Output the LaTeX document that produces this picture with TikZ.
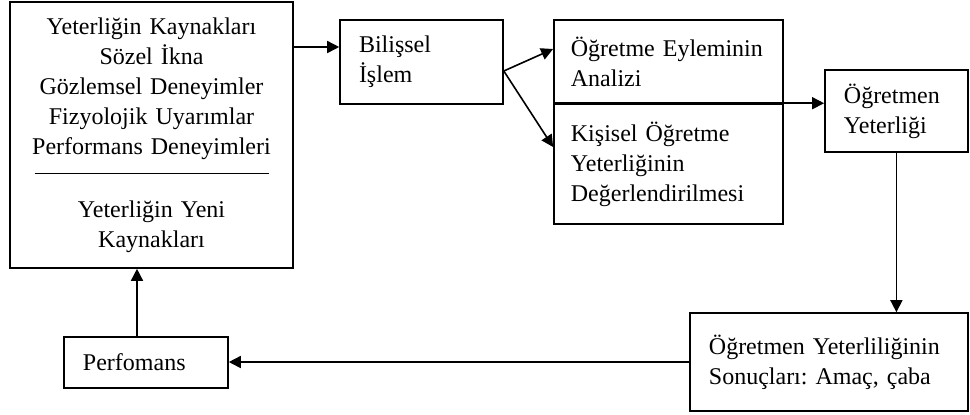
\documentclass[tikz,border=0pt]{standalone}
\usepackage{fontspec}
\setmainfont{Liberation Serif}
\usetikzlibrary{arrows.meta}

\begin{document}
\begin{tikzpicture}[->,>={Triangle[length=6pt,width=6pt]},line width=0.8pt,
	source node/.style={rectangle,draw,align=center,text width=131.5pt,inner xsep=5pt,inner ysep=2pt,minimum height=133pt,font=\fontsize{12pt}{15pt}\selectfont\frenchspacing},
	box node/.style={rectangle,draw,align=left,inner xsep=9.5pt,inner ysep=2pt,font=\fontsize{12pt}{15pt}\selectfont\frenchspacing}
]
	\useasboundingbox (0,0) rectangle (485pt,-207pt);

	\node[source node] (L) at (75.75pt,-67.5pt) {Yeterliğin Kaynakları\\Sözel İkna\\Gözlemsel Deneyimler\\Fizyolojik Uyarımlar\\Performans Deneyimleri\\[-5pt]\rule{117pt}{0.8pt}\\[6.5pt]Yeterliğin Yeni\\Kaynakları};

	\node[box node, text width=62.5pt, minimum height=42pt, right of=L, xshift=106.55pt, yshift=36.5pt] (B) {Bilişsel\\İşlem};
	\node[box node, text width=97.5pt, inner xsep=8.5pt, minimum height=42pt, right of=B, xshift=95pt] (A) {Öğretme Eyleminin\\Analizi};
	\node[box node, text width=97.5pt, inner xsep=8.5pt, minimum height=60pt, below of=A, yshift=-22.55pt] (K) {Kişisel Öğretme\\Yeterliğinin\\Değerlendirilmesi};
	\node[box node, text width=52.5pt, minimum height=41pt, right of=A, xshift=85.55pt, yshift=-24.5pt] (O) {Öğretmen\\Yeterliği};
	\node[box node, text width=120pt, minimum height=49pt, below of=O, xshift=-33.75pt, yshift=-97.05pt] (S) {Öğretmen Yeterliliğinin\\Sonuçları: Amaç, çaba};
	\node[box node, text width=63pt, minimum height=25.5pt, below of=L, xshift=-2.75pt, yshift=-85.3pt] (P) {Perfomans};

	\coordinate (bin) at ([yshift=7.5pt]B.west);
	\coordinate (split) at ([yshift=-4.5pt]B.east);
	\coordinate (pup) at ([xshift=-4.5pt]P.north);

	\draw (L.east |- bin) -- (bin);
	\draw (split) -- ([yshift=6.5pt]A.west);
	\draw (split) -- ([yshift=8.5pt]K.west);
	\draw (K.north west) -- (K.north west -| O.west);
	\draw (O.south) -- (O.south |- S.north);
	\draw (S.west) -- (S.west -| P.east);
	\draw (pup) -- (pup |- L.south);

\end{tikzpicture}
\end{document}
